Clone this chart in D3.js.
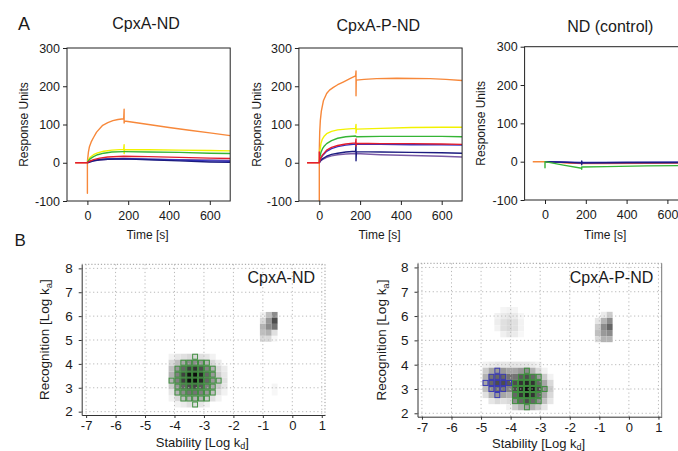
<!DOCTYPE html>
<html><head><meta charset="utf-8">
<script src="https://cdn.jsdelivr.net/npm/d3@7"></script>
<style>
body{margin:0;background:#fff}
svg{display:block}
text{font-family:'Liberation Sans',Arial,Helvetica,sans-serif;fill:#1a1a1a}
</style>
</head><body>
<svg id="c" width="678" height="451"></svg>
<script>
// ---------------- DATA ----------------
const timeTicks = [0, 200, 400, 600];
const ruTicks = [-100, 0, 100, 200, 300];
const kdTicks = [-7, -6, -5, -4, -3, -2, -1, 0, 1];
const kaTicks = [2, 3, 4, 5, 6, 7, 8];
const sensorTitles = ["CpxA-ND", "CpxA-P-ND", "ND (control)"];
const mapTitles = ["CpxA-ND", "CpxA-P-ND"];

// Panel A1 : CpxA-ND  [time s, response units]
const a1Orange = [[-60,0],[0,0],[0,-80],[0,3],[5,28],[10,42],[20,56],[30,66],[45,80],[75,98],[100,105],[125,110],[150,113],[178,115],[180,140],[180,104],[182,109],[300,100],[400,92],[500,85],[600,78],[700,71]];
const a1Yellow = [[0,0],[5,8],[15,15],[30,21],[50,26],[80,30],[120,33],[178,35],[180,47],[180,24],[182,34],[300,34],[450,33],[600,32],[700,31]];
const a1Green  = [[0,0],[5,5],[15,11],[30,16],[50,21],[80,25],[120,28],[178,29],[182,29],[300,28],[450,27],[600,25],[700,24]];
const a1Purple = [[0,0],[10,2],[30,5],[60,7],[100,9],[178,10],[300,9],[450,8],[600,7],[700,6]];
const a1Blue   = [[0,0],[10,3],[30,6],[60,9],[100,10],[178,11],[300,9],[450,7],[600,5],[700,4]];
const a1Navy   = [[0,0],[10,2],[30,5],[60,8],[100,9],[178,10],[300,8],[450,5],[600,2],[700,1]];
const a1Red    = [[-60,0],[0,0],[10,4],[30,8],[60,12],[100,15],[178,17],[300,16],[450,14],[600,12],[700,11]];

// Panel A2 : CpxA-P-ND
const a2Orange = [[-60,0],[0,0],[0,-100],[0,30],[2,80],[5,110],[10,135],[20,162],[36,181],[50,190],[69,197],[90,204],[117,211],[150,220],[178,227],[180,240],[180,175],[181,216],[220,218],[281,220],[379,221],[543,220],[620,218],[700,215]];
const a2Yellow = [[0,0],[3,30],[8,50],[15,62],[25,70],[36,76],[60,82],[90,86],[130,88],[178,90],[180,100],[180,78],[182,88],[300,90],[450,92],[600,93],[700,93]];
const a2Green  = [[0,0],[3,15],[8,27],[15,36],[25,44],[36,50],[60,58],[90,64],[130,68],[178,70],[182,68],[300,69],[450,69],[600,69],[700,68]];
const a2Purple = [[0,0],[5,4],[15,8],[36,14],[60,18],[90,21],[130,23],[178,24],[300,21],[450,19],[600,17],[700,15]];
const a2Navy   = [[0,0],[5,5],[15,10],[36,17],[60,22],[90,25],[130,28],[178,30],[180,46],[180,5],[182,29],[300,28],[450,27],[600,26],[700,25]];
const a2Blue   = [[0,0],[5,9],[15,18],[36,30],[60,37],[90,42],[130,46],[178,49],[300,48],[450,47],[600,47],[700,46]];
const a2Red    = [[-60,0],[0,0],[0,28],[0,0],[5,10],[15,20],[36,33],[60,40],[90,45],[130,49],[178,52],[180,62],[180,44],[182,51],[300,50],[450,50],[600,49],[700,48]];

// Panel A3 : ND (control)
const a3Orange = [[-60,0],[0,0],[100,-3],[180,-5],[300,-5],[500,-4],[700,-3]];
const a3Red    = [[0,0],[180,-4],[700,-3]];
const a3Purple = [[0,0],[180,-3],[700,-2]];
const a3Blue   = [[0,0],[180,-2],[700,-1]];
const a3Navy   = [[0,0],[180,-3],[180,-8],[180,2],[182,-3],[400,-2],[700,-2]];
const a3Green  = [[0,0],[0,-16],[0,0],[90,-9],[180,-17],[180,-20],[180,-14],[300,-13],[500,-11],[700,-10]];

// Panel B1 : CpxA-ND interaction map (log kd, log ka, intensity 0..1)
const b1MainKd = [-4.1,-3.9,-3.7,-3.5,-3.3,-3.1,-2.9,-2.7,-2.5,-2.3];
const b1MainKa = [4.3,4.05,3.8,3.55,3.3,3.05,2.8,2.55,2.3];
const b1MainVal = [
  [0.05,0.10,0.12,0.15,0.15,0.12,0.10,0.05,0.00,0.00],
  [0.15,0.25,0.35,0.45,0.45,0.40,0.30,0.15,0.08,0.00],
  [0.25,0.40,0.60,0.75,0.80,0.70,0.50,0.30,0.15,0.08],
  [0.30,0.50,0.75,0.92,0.95,0.85,0.60,0.40,0.20,0.10],
  [0.30,0.50,0.75,0.95,0.95,0.85,0.60,0.40,0.25,0.12],
  [0.20,0.40,0.60,0.70,0.72,0.65,0.50,0.35,0.20,0.10],
  [0.10,0.30,0.45,0.55,0.55,0.50,0.40,0.25,0.12,0.05],
  [0.05,0.15,0.25,0.30,0.30,0.30,0.20,0.12,0.05,0.00],
  [0.00,0.05,0.08,0.12,0.12,0.10,0.05,0.00,0.00,0.00]];
const b1MainSel = [
  [0,0,0,0,1,0,0,0,0,0],
  [0,0,1,1,1,1,1,0,0,0],
  [0,1,1,1,1,1,1,1,0,0],
  [0,1,1,1,1,1,1,1,0,0],
  [1,1,1,1,1,1,1,1,1,0],
  [0,1,1,1,1,1,1,1,0,0],
  [0,1,1,1,1,1,1,1,0,0],
  [0,0,1,1,1,1,1,0,0,0],
  [0,0,0,0,1,0,0,0,0,0]];
const b1SideKd = [-1.0,-0.8,-0.6];
const b1SideKa = [6.05,5.8,5.55,5.3,5.05];
const b1SideVal = [
  [0.05,0.25,0.45],
  [0.15,0.40,0.70],
  [0.30,0.45,0.55],
  [0.25,0.30,0.12],
  [0.15,0.15,0.03]];
const b1FaintKd = [-0.6];
const b1FaintKa = [3.05,2.8];
const b1FaintVal = [[0.04],[0.03]];

// Panel B2 : CpxA-P-ND interaction map
const b2MainKd = [-4.85,-4.65,-4.45,-4.25,-4.05,-3.85,-3.65,-3.45,-3.25,-3.05,-2.85,-2.65];
const b2MainKa = [4.0,3.75,3.5,3.25,3.0,2.75,2.5,2.25];
const b2MainVal = [
  [0.05,0.08,0.10,0.10,0.10,0.10,0.10,0.10,0.08,0.05,0.00,0.00],
  [0.20,0.35,0.40,0.40,0.35,0.35,0.40,0.45,0.30,0.15,0.05,0.00],
  [0.30,0.55,0.60,0.60,0.55,0.55,0.65,0.70,0.60,0.40,0.20,0.05],
  [0.35,0.60,0.70,0.70,0.65,0.70,0.80,0.85,0.80,0.60,0.35,0.15],
  [0.25,0.45,0.55,0.55,0.50,0.70,0.85,0.95,0.90,0.70,0.45,0.20],
  [0.12,0.30,0.40,0.35,0.30,0.60,0.80,0.90,0.80,0.60,0.35,0.15],
  [0.00,0.10,0.15,0.12,0.15,0.45,0.60,0.70,0.60,0.45,0.25,0.10],
  [0.00,0.00,0.00,0.00,0.05,0.20,0.30,0.35,0.30,0.20,0.10,0.00]];
// 1 = green outlined cell, 2 = blue outlined cell
const b2MainSel = [
  [0,0,0,0,0,0,0,0,0,0,0,0],
  [0,0,2,0,0,0,0,1,0,0,0,0],
  [0,2,2,2,0,0,1,1,1,1,0,0],
  [2,2,2,2,2,1,1,1,1,1,0,0],
  [0,2,2,2,0,1,1,1,1,1,1,0],
  [0,0,2,0,0,1,1,1,1,1,0,0],
  [0,0,0,0,0,1,1,1,1,1,0,0],
  [0,0,0,0,0,0,0,1,0,0,0,0]];
const b2UpperKd = [-4.45,-4.25,-4.05,-3.85,-3.65];
const b2UpperKa = [6.25,6.0,5.75,5.5,5.25];
const b2UpperVal = [
  [0.00,0.04,0.05,0.04,0.00],
  [0.05,0.08,0.10,0.08,0.03],
  [0.07,0.12,0.15,0.12,0.05],
  [0.05,0.12,0.15,0.12,0.05],
  [0.00,0.06,0.10,0.08,0.03]];
const b2SideKd = [-1.05,-0.85,-0.65];
const b2SideKa = [6.05,5.8,5.55,5.3,5.05];
const b2SideVal = [
  [0.00,0.08,0.20],
  [0.10,0.30,0.45],
  [0.20,0.45,0.60],
  [0.25,0.40,0.45],
  [0.15,0.30,0.30]];

// ---------------- DRAWING ----------------
const svg = d3.select("#c");
const fmt = d => String(d);   // plain hyphen-minus like the reference
const lineColor = {orange:"#f7883a", yellow:"#f2f200", green:"#35b535", red:"#e31e2d",
                   blue:"#3434c4", navy:"#1c1c80", purple:"#7a5aa6"};

const sensorSeries = [
  [["orange",a1Orange],["yellow",a1Yellow],["green",a1Green],["purple",a1Purple],["blue",a1Blue],["navy",a1Navy],["red",a1Red]],
  [["orange",a2Orange],["yellow",a2Yellow],["green",a2Green],["purple",a2Purple],["navy",a2Navy],["blue",a2Blue],["red",a2Red]],
  [["orange",a3Orange],["red",a3Red],["purple",a3Purple],["blue",a3Blue],["navy",a3Navy],["green",a3Green]]
];
const sensorLayout = [
  {x0:67,    x1:230.2, y0:48,   y1:201, tx:146,   ty:29,   yl:27.5},
  {x0:298.9, x1:462.1, y0:48,   y1:201, tx:378.3, ty:30.5, yl:260.5},
  {x0:524.6, x1:687.8, y0:46.7, y1:200, tx:610.3, ty:32,   yl:485}
];

sensorLayout.forEach((p, i) => {
  const x = d3.scaleLinear().domain([-100, 700]).range([p.x0, p.x1]);
  const y = d3.scaleLinear().domain([-100, 300]).range([p.y1, p.y0]);
  const g = svg.append("g");
  const cid = "clipA" + i;
  g.append("clipPath").attr("id", cid).append("rect")
    .attr("x", p.x0).attr("y", p.y0).attr("width", p.x1 - p.x0).attr("height", p.y1 - p.y0);
  const line = d3.line().x(d => x(d[0])).y(d => y(d[1]));
  const lg = g.append("g").attr("clip-path", `url(#${cid})`);
  sensorSeries[i].forEach(([name, data]) => {
    lg.append("path").datum(data).attr("d", line)
      .attr("fill", "none").attr("stroke", lineColor[name])
      .attr("stroke-width", 1.4).attr("stroke-linejoin", "round");
  });
  g.append("rect").attr("x", p.x0).attr("y", p.y0)
    .attr("width", p.x1 - p.x0).attr("height", p.y1 - p.y0)
    .attr("fill", "none").attr("stroke", "#222").attr("stroke-width", 1);
  const ax = g.append("g").attr("transform", `translate(0,${p.y1})`)
    .call(d3.axisBottom(x).tickValues(timeTicks).tickFormat(fmt).tickSize(4).tickSizeOuter(0).tickPadding(6));
  const ay = g.append("g").attr("transform", `translate(${p.x0},0)`)
    .call(d3.axisLeft(y).tickValues(ruTicks).tickFormat(fmt).tickSize(4).tickSizeOuter(0).tickPadding(3));
  [ax, ay].forEach(a => {
    a.select(".domain").remove();
    a.selectAll("line").attr("stroke", "#222");
    a.selectAll("text").attr("font-size", "12.5px").attr("fill", "#1a1a1a")
      .attr("font-family", "'Liberation Sans',Arial,sans-serif");
  });
  g.append("text").attr("x", p.tx).attr("y", p.ty).attr("text-anchor", "middle")
    .attr("font-size", "16px").text(sensorTitles[i]);
  g.append("text").attr("x", (p.x0 + p.x1) / 2 - 1).attr("y", 238.5).attr("text-anchor", "middle")
    .attr("font-size", "12px").text("Time [s]");
  g.append("text").attr("transform", `translate(${p.yl},${(p.y0 + p.y1) / 2}) rotate(-90)`)
    .attr("text-anchor", "middle").attr("font-size", "12px").text("Response Units");
});

svg.append("text").attr("x", 18).attr("y", 29.5).attr("font-size", "18px").text("A");
svg.append("text").attr("x", 14.5).attr("y", 246).attr("font-size", "17px").text("B");

// Interaction maps
const mapClusters = [
  [[b1MainKd, b1MainKa, b1MainVal, b1MainSel], [b1SideKd, b1SideKa, b1SideVal, null], [b1FaintKd, b1FaintKa, b1FaintVal, null]],
  [[b2MainKd, b2MainKa, b2MainVal, b2MainSel], [b2UpperKd, b2UpperKa, b2UpperVal, null], [b2SideKd, b2SideKa, b2SideVal, null]]
];
const mapLayout = [
  {x0:81.7,  x1:325,   y0:264.3, y1:415,   lx:315,   ly:282.5, xl:446.5, yl:48.5,  rightDotted:true},
  {x0:417.5, x1:661.7, y0:263.3, y1:416.7, lx:653.3, ly:283,   xl:448,   yl:386,   rightDotted:false}
];
const selColor = {1:"#3f8f3f", 2:"#3a3ab4"};
const gray = d3.interpolateRgb("#ffffff", "#000000");

mapLayout.forEach((p, i) => {
  const x = d3.scaleLinear().domain([-7.15, 1.11]).range([p.x0, p.x1]);
  const y = d3.scaleLinear().domain([1.86, 8.17]).range([p.y1, p.y0]);
  const g = svg.append("g");
  const hw = 0.1, hh = 0.125;
  const cells = [], sel = [];
  mapClusters[i].forEach(([kd, ka, val, mask]) => {
    ka.forEach((a, r) => kd.forEach((d, c) => {
      if (val[r][c] > 0) cells.push({kd: d, ka: a, v: val[r][c]});
      if (mask && mask[r][c]) sel.push({kd: d, ka: a, s: mask[r][c]});
    }));
  });
  g.selectAll("rect.cell").data(cells).join("rect").attr("class", "cell")
    .attr("x", d => x(d.kd - hw)).attr("y", d => y(d.ka + hh))
    .attr("width", d => x(d.kd + hw) - x(d.kd - hw)).attr("height", d => y(d.ka - hh) - y(d.ka + hh))
    .attr("fill", d => gray(d.v));
  // dotted grid
  const grid = g.append("g").attr("stroke", "#b8b8b8").attr("stroke-width", 1).attr("stroke-dasharray", "1.2,2.6");
  kdTicks.forEach(t => grid.append("line").attr("x1", x(t)).attr("x2", x(t)).attr("y1", p.y0).attr("y2", p.y1));
  kaTicks.forEach(t => grid.append("line").attr("x1", p.x0).attr("x2", p.x1).attr("y1", y(t)).attr("y2", y(t)));
  // outlined cells
  g.selectAll("rect.sel").data(sel).join("rect").attr("class", "sel")
    .attr("x", d => x(d.kd - hw) + 0.5).attr("y", d => y(d.ka + hh) + 0.5)
    .attr("width", d => x(d.kd + hw) - x(d.kd - hw) - 1).attr("height", d => y(d.ka - hh) - y(d.ka + hh) - 1)
    .attr("fill", "none").attr("stroke", d => selColor[d.s]).attr("stroke-width", 1);
  // frame: top dotted, right
  g.append("line").attr("x1", p.x0).attr("x2", p.x1).attr("y1", p.y0).attr("y2", p.y0)
    .attr("stroke", "#999").attr("stroke-dasharray", "1.2,2");
  g.append("line").attr("x1", p.x1).attr("x2", p.x1).attr("y1", p.y0).attr("y2", p.y1)
    .attr("stroke", p.rightDotted ? "#999" : "#777").attr("stroke-dasharray", p.rightDotted ? "1.2,2" : null);
  const ax = g.append("g").attr("transform", `translate(0,${p.y1})`)
    .call(d3.axisBottom(x).tickValues(kdTicks).tickFormat(fmt).tickSize(3).tickSizeOuter(0).tickPadding(3));
  const ay = g.append("g").attr("transform", `translate(${p.x0},0)`)
    .call(d3.axisLeft(y).tickValues(kaTicks).tickFormat(fmt).tickSize(3).tickSizeOuter(0).tickPadding(6));
  ax.selectAll("text").attr("font-size", "13px");
  ay.selectAll("text").attr("font-size", "13.5px");
  [ax, ay].forEach(a => {
    a.select(".domain").attr("stroke", "#333");
    a.selectAll("line").attr("stroke", "#333");
    a.selectAll("text").attr("fill", "#1a1a1a")
      .attr("font-family", "'Liberation Sans',Arial,sans-serif");
  });
  g.append("text").attr("x", p.lx).attr("y", p.ly).attr("text-anchor", "end")
    .attr("font-size", "16px").text(mapTitles[i]);
  const xt = g.append("text").attr("x", (p.x0 + p.x1) / 2 - 1).attr("y", p.xl)
    .attr("text-anchor", "middle").attr("font-size", "13px");
  xt.append("tspan").text("Stability [Log k");
  xt.append("tspan").attr("font-size", "9px").attr("dy", 2).text("d");
  xt.append("tspan").attr("dy", -2).text("]");
  const yt = g.append("text").attr("transform", `translate(${p.yl},${(p.y0 + p.y1) / 2}) rotate(-90)`)
    .attr("text-anchor", "middle").attr("font-size", "13.5px");
  yt.append("tspan").text("Recognition [Log k");
  yt.append("tspan").attr("font-size", "9.5px").attr("dy", 3).text("a");
  yt.append("tspan").attr("dy", -3).text("]");
});
</script>
</body></html>
